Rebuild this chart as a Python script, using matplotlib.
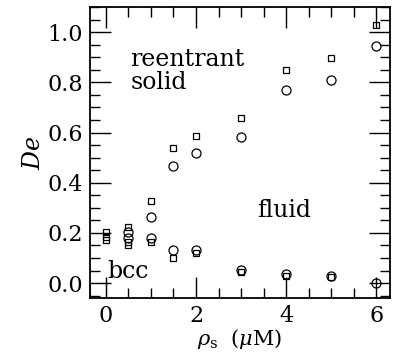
import matplotlib
matplotlib.use("Agg")
import matplotlib.pyplot as plt
from matplotlib.ticker import MultipleLocator
from matplotlib.patches import Rectangle

# upper branch (reentrant solid / fluid)
x_up = [1, 1.5, 2, 3, 4, 5, 6]
up_sq = [0.327, 0.539, 0.587, 0.658, 0.848, 0.895, 1.028]
up_ci = [0.262, 0.468, 0.520, 0.583, 0.768, 0.810, 0.943]

# lower branch (bcc / fluid)
x_lo_sq = [0, 0, 0, 0.5, 0.5, 0.5, 1, 1.5, 2, 3, 4, 5]
lo_sq = [0.205, 0.185, 0.17, 0.225, 0.165, 0.15, 0.165, 0.10, 0.118, 0.045, 0.030, 0.025]
x_lo_ci = [0.5, 0.5, 1, 1.5, 2, 3, 4, 5, 6]
lo_ci = [0.205, 0.178, 0.180, 0.133, 0.131, 0.051, 0.035, 0.030, 0.0]

xticks = [0, 2, 4, 6]
yticks = [0.0, 0.2, 0.4, 0.6, 0.8, 1.0]

plt.rcParams['font.family'] = ['DejaVu Serif']
plt.rcParams['mathtext.fontset'] = 'dejavuserif'

fig = plt.figure(figsize=(4.0, 3.52), dpi=100)
ax = fig.add_axes([0.225, 0.153, 0.75, 0.827])

ms_sq = 4.3
ms_ci = 6.5
ax.plot(x_up, up_sq, 's', mfc='none', mec='black', ms=ms_sq, mew=0.9)
ax.plot(x_up, up_ci, 'o', mfc='none', mec='black', ms=ms_ci, mew=0.9)
ax.plot(x_lo_sq, lo_sq, 's', mfc='none', mec='black', ms=ms_sq, mew=0.9)
ax.plot(x_lo_ci, lo_ci, 'o', mfc='none', mec='black', ms=ms_ci, mew=0.9)

xmin, xmax = -0.35, 6.3
ymin, ymax = -0.06, 1.10
ax.set_xlim(xmin, xmax)
ax.set_ylim(ymin, ymax)
ax.add_patch(Rectangle((xmin, ymin), 0 - xmin, 0 - ymin, fill=False,
                       ec='#555555', lw=0.8))

ax.set_xticks(xticks)
ax.set_yticks(yticks)
ax.set_yticklabels([f"{v:.1f}" for v in yticks])
ax.xaxis.set_minor_locator(MultipleLocator(0.5))
ax.yaxis.set_minor_locator(MultipleLocator(0.05))
ax.tick_params(which='both', direction='in', top=True, right=True,
               labelsize=16, width=1.0)
ax.tick_params(which='major', length=15, pad=5)
ax.tick_params(which='minor', length=7)
for s in ax.spines.values():
    s.set_linewidth(1.3)

fs = 17
ax.text(0.55, 0.89, "reentrant", fontsize=fs, ha='left', va='center')
ax.text(0.55, 0.80, "solid", fontsize=fs, ha='left', va='center')
ax.text(3.35, 0.29, "fluid", fontsize=fs, ha='left', va='center')
ax.text(0.03, 0.045, "bcc", fontsize=fs, ha='left', va='center')

ax.set_ylabel(r"$De$", fontsize=17, labelpad=2)
ax.set_xlabel(r"$\rho_{\rm s}$  ($\mu$M)", fontsize=15, labelpad=0)

fig.savefig("out.png", dpi=100)
